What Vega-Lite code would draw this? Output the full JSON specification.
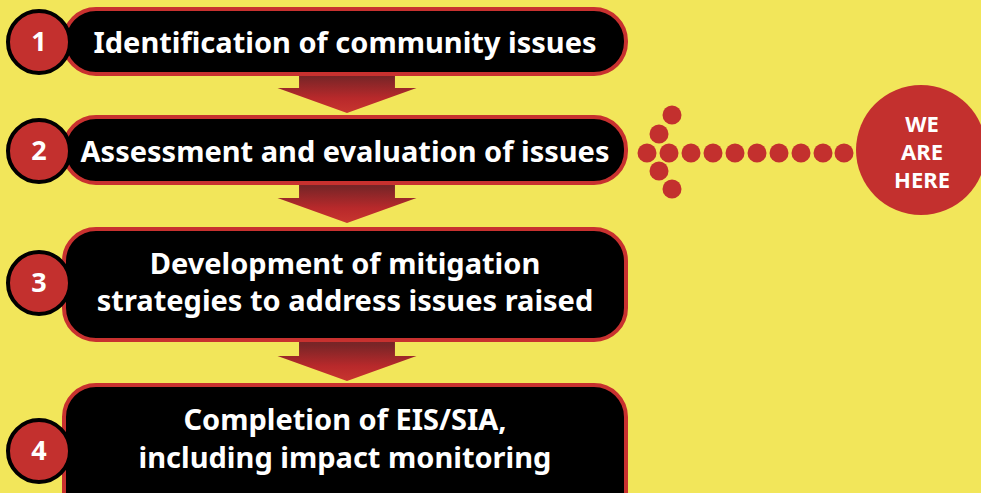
{
  "$schema": "https://vega.github.io/schema/vega-lite/v6.json",
  "width": 981,
  "height": 493,
  "padding": 0,
  "autosize": {"type": "none"},
  "background": "#F2E65A",
  "config": {"view": {"stroke": null}},
  "datasets": {
    "boxes": [
      {"step": 1, "x1": 64, "x2": 626, "y1": 9, "y2": 74},
      {"step": 2, "x1": 64, "x2": 626, "y1": 117, "y2": 183},
      {"step": 3, "x1": 64, "x2": 626, "y1": 229, "y2": 340},
      {"step": 4, "x1": 64, "x2": 626, "y1": 385, "y2": 560}
    ],
    "arrows": [
      {"from": 1, "x": 347, "y": 95},
      {"from": 2, "x": 347, "y": 205},
      {"from": 3, "x": 347, "y": 363}
    ],
    "numbers": [
      {"label": "1", "x": 39, "y": 42},
      {"label": "2", "x": 39, "y": 151},
      {"label": "3", "x": 39, "y": 283},
      {"label": "4", "x": 39, "y": 451}
    ],
    "labels": [
      {"label": "Identification of community issues", "x": 345, "y": 53},
      {"label": "Assessment and evaluation of issues", "x": 345, "y": 162},
      {"label": "Development of mitigation", "x": 345, "y": 274},
      {"label": "strategies to address issues raised", "x": 345, "y": 311},
      {"label": "Completion of EIS/SIA,", "x": 345, "y": 430},
      {"label": "including impact monitoring", "x": 345, "y": 468}
    ],
    "dots": [
      {"x": 647, "y": 153}, {"x": 669, "y": 153}, {"x": 691, "y": 153},
      {"x": 713, "y": 153}, {"x": 735, "y": 153}, {"x": 757, "y": 153},
      {"x": 779, "y": 153}, {"x": 801, "y": 153}, {"x": 823, "y": 153},
      {"x": 844, "y": 153},
      {"x": 659, "y": 134}, {"x": 672, "y": 115},
      {"x": 659, "y": 171}, {"x": 672, "y": 189}
    ],
    "badge": [{"x": 921, "y": 150}],
    "badgeText": [
      {"label": "WE", "x": 922, "y": 132},
      {"label": "ARE", "x": 922, "y": 160},
      {"label": "HERE", "x": 922, "y": 188}
    ]
  },
  "layer": [
    {
      "data": {"name": "boxes"},
      "mark": {"type": "rect", "cornerRadius": 36, "fill": "#5e561a", "opacity": 0.12, "xOffset": 9, "yOffset": 12},
      "encoding": {
        "x": {"field": "x1", "type": "quantitative", "scale": {"domain": [0, 981]}, "axis": null},
        "x2": {"field": "x2"},
        "y": {"field": "y1", "type": "quantitative", "scale": {"domain": [0, 493], "reverse": true}, "axis": null},
        "y2": {"field": "y2"}
      }
    },
    {
      "data": {"name": "boxes"},
      "mark": {"type": "rect", "cornerRadius": 34, "fill": "#5e561a", "opacity": 0.22, "xOffset": 5, "yOffset": 7},
      "encoding": {
        "x": {"field": "x1", "type": "quantitative", "scale": {"domain": [0, 981]}, "axis": null},
        "x2": {"field": "x2"},
        "y": {"field": "y1", "type": "quantitative", "scale": {"domain": [0, 493], "reverse": true}, "axis": null},
        "y2": {"field": "y2"}
      }
    },
    {
      "data": {"name": "arrows"},
      "mark": {
        "type": "point",
        "filled": true,
        "opacity": 1,
        "size": 19321,
        "shape": "M-0.69,-0.6L0.69,-0.6L0.69,-0.1L1,-0.1L0,0.26L-1,-0.1L-0.69,-0.1Z",
        "fill": {
          "gradient": "linear", "x1": 0, "y1": 0, "x2": 0, "y2": 1,
          "stops": [
            {"offset": 0, "color": "#6a2224"},
            {"offset": 0.4, "color": "#7a2527"},
            {"offset": 0.75, "color": "#b8292b"},
            {"offset": 1, "color": "#c8352f"}
          ]
        }
      },
      "encoding": {
        "x": {"field": "x", "type": "quantitative", "scale": {"domain": [0, 981]}, "axis": null},
        "y": {"field": "y", "type": "quantitative", "scale": {"domain": [0, 493], "reverse": true}, "axis": null}
      }
    },
    {
      "data": {"name": "boxes"},
      "mark": {"type": "rect", "cornerRadius": 32, "fill": "#000000", "stroke": "#C8312F", "strokeWidth": 4},
      "encoding": {
        "x": {"field": "x1", "type": "quantitative", "scale": {"domain": [0, 981]}, "axis": null},
        "x2": {"field": "x2"},
        "y": {"field": "y1", "type": "quantitative", "scale": {"domain": [0, 493], "reverse": true}, "axis": null},
        "y2": {"field": "y2"}
      }
    },
    {
      "data": {"name": "numbers"},
      "mark": {"type": "point", "filled": true, "opacity": 1, "size": 3844, "fill": "#C3302E", "stroke": "#000000", "strokeWidth": 4},
      "encoding": {
        "x": {"field": "x", "type": "quantitative", "scale": {"domain": [0, 981]}, "axis": null},
        "y": {"field": "y", "type": "quantitative", "scale": {"domain": [0, 493], "reverse": true}, "axis": null}
      }
    },
    {
      "data": {"name": "numbers"},
      "mark": {"type": "text", "font": "Noto Sans", "fontWeight": "bold", "fontSize": 27, "color": "#ffffff", "align": "center", "baseline": "middle", "dy": 1},
      "encoding": {
        "x": {"field": "x", "type": "quantitative", "scale": {"domain": [0, 981]}, "axis": null},
        "y": {"field": "y", "type": "quantitative", "scale": {"domain": [0, 493], "reverse": true}, "axis": null},
        "text": {"field": "label"}
      }
    },
    {
      "data": {"name": "labels"},
      "mark": {"type": "text", "font": "Noto Sans", "fontWeight": "bold", "fontSize": 29, "color": "#ffffff", "align": "center", "baseline": "alphabetic"},
      "encoding": {
        "x": {"field": "x", "type": "quantitative", "scale": {"domain": [0, 981]}, "axis": null},
        "y": {"field": "y", "type": "quantitative", "scale": {"domain": [0, 493], "reverse": true}, "axis": null},
        "text": {"field": "label"}
      }
    },
    {
      "data": {"name": "dots"},
      "mark": {"type": "point", "filled": true, "opacity": 1, "size": 361, "fill": "#C3302E", "strokeWidth": 0},
      "encoding": {
        "x": {"field": "x", "type": "quantitative", "scale": {"domain": [0, 981]}, "axis": null},
        "y": {"field": "y", "type": "quantitative", "scale": {"domain": [0, 493], "reverse": true}, "axis": null}
      }
    },
    {
      "data": {"name": "badge"},
      "mark": {"type": "point", "filled": true, "opacity": 1, "size": 16900, "fill": "#C3302E", "strokeWidth": 0},
      "encoding": {
        "x": {"field": "x", "type": "quantitative", "scale": {"domain": [0, 981]}, "axis": null},
        "y": {"field": "y", "type": "quantitative", "scale": {"domain": [0, 493], "reverse": true}, "axis": null}
      }
    },
    {
      "data": {"name": "badgeText"},
      "mark": {"type": "text", "font": "Noto Sans", "fontWeight": "bold", "fontSize": 22, "color": "#ffffff", "align": "center", "baseline": "alphabetic"},
      "encoding": {
        "x": {"field": "x", "type": "quantitative", "scale": {"domain": [0, 981]}, "axis": null},
        "y": {"field": "y", "type": "quantitative", "scale": {"domain": [0, 493], "reverse": true}, "axis": null},
        "text": {"field": "label"}
      }
    }
  ]
}
